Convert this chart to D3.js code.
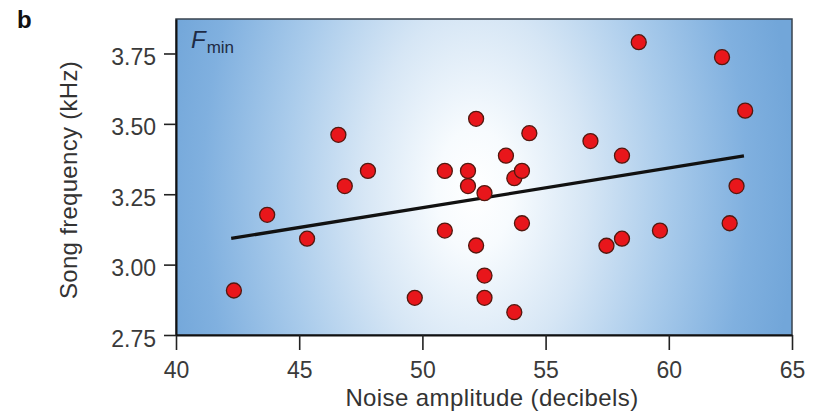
<!DOCTYPE html>
<html>
<head>
<meta charset="utf-8">
<script src="https://cdn.jsdelivr.net/npm/d3@7/dist/d3.min.js"></script>
<style>
  html, body { margin: 0; padding: 0; background: #ffffff; }
  svg { display: block; font-family: "Liberation Sans", Arial, sans-serif; }
</style>
</head>
<body>
<svg id="chart" width="825" height="414"></svg>
<script>
// ---- data ----
const noiseDb = [42.35, 43.7, 45.32, 46.59, 46.85, 47.79, 49.69, 50.91, 50.91, 51.85,
                 51.85, 52.18, 52.18, 52.52, 52.52, 52.52, 53.39, 53.73, 53.73, 54.04,
                 54.04, 54.34, 56.82, 57.47, 58.10, 58.10, 58.78, 59.64, 62.16, 62.47,
                 62.75, 63.10];
const songKHz = [2.908, 3.177, 3.092, 3.461, 3.279, 3.333, 2.882, 3.333, 3.121, 3.333,
                 3.279, 3.518, 3.068, 3.254, 2.961, 2.882, 3.387, 3.307, 2.831, 3.333,
                 3.147, 3.467, 3.439, 3.067, 3.387, 3.092, 3.790, 3.121, 3.737, 3.147,
                 3.279, 3.547];
const fitX = [42.24, 63.05];
const fitY = [3.093, 3.386];
const xTicks = [40, 45, 50, 55, 60, 65];
const yTicks = [2.75, 3.00, 3.25, 3.50, 3.75];
const xDomain = [40, 65];
const yDomain = [2.75, 3.8725];

// ---- layout ----
const L = 176, R = 792, T = 19, B = 335;
const svg = d3.select("#chart");
const x = d3.scaleLinear().domain(xDomain).range([L, R]);
const y = d3.scaleLinear().domain(yDomain).range([B, T]);

// background gradient
const defs = svg.append("defs");
const cx = 475, cy = 190;
const grad = defs.append("radialGradient")
  .attr("id", "bg")
  .attr("gradientUnits", "userSpaceOnUse")
  .attr("cx", cx).attr("cy", cy).attr("r", 320)
  .attr("gradientTransform", `translate(${cx},${cy}) scale(1,1.6) translate(${-cx},${-cy})`);
[[0, "#ffffff"], [0.12, "#f7fbfe"], [0.35, "#d6e6f5"], [0.6, "#a9cbeb"], [0.85, "#80b0df"], [1, "#72a6d9"]]
  .forEach(([o, c]) => grad.append("stop").attr("offset", o).attr("stop-color", c));

svg.append("rect")
  .attr("x", L).attr("y", T).attr("width", R - L).attr("height", B - T)
  .attr("fill", "url(#bg)")
  .attr("stroke", "#38434f").attr("stroke-width", 1.5);

// axes
const xAxis = svg.append("g").attr("transform", `translate(0,${B})`)
  .call(d3.axisBottom(x).tickValues(xTicks).tickSize(15).tickSizeOuter(0).tickFormat(d3.format("d")));
const yAxis = svg.append("g").attr("transform", `translate(${L},0)`)
  .call(d3.axisLeft(y).tickValues(yTicks).tickSize(12).tickSizeOuter(0).tickPadding(8).tickFormat(d3.format(".2f")));
[xAxis, yAxis].forEach(g => {
  g.select(".domain").attr("stroke", "#111").attr("stroke-width", 2);
  g.selectAll(".tick line").attr("stroke", "#222").attr("stroke-width", 1.6);
  g.selectAll(".tick text").attr("fill", "#3a3a3a").style("font-size", "23px");
});
xAxis.selectAll(".tick text").attr("dy", 0).attr("y", 43);
yAxis.selectAll(".tick text").attr("dy", "0.48em");

// regression line
svg.append("line")
  .attr("x1", x(fitX[0])).attr("y1", y(fitY[0]))
  .attr("x2", x(fitX[1])).attr("y2", y(fitY[1]))
  .attr("stroke", "#111").attr("stroke-width", 3.3);

// points
svg.append("g").selectAll("circle")
  .data(noiseDb.map((v, i) => [v, songKHz[i]]))
  .join("circle")
  .attr("cx", d => x(d[0])).attr("cy", d => y(d[1]))
  .attr("r", 7.5)
  .attr("fill", "#e8161b")
  .attr("stroke", "#52180f").attr("stroke-width", 1.3);

// axis titles
svg.append("text")
  .attr("x", 492).attr("y", 406)
  .attr("text-anchor", "middle").attr("fill", "#333")
  .style("font-size", "24px").style("letter-spacing", "0.4px")
  .text("Noise amplitude (decibels)");
svg.append("text")
  .attr("transform", `translate(77,180) rotate(-90)`)
  .attr("text-anchor", "middle").attr("fill", "#333")
  .style("font-size", "24px").style("letter-spacing", "0.3px")
  .text("Song frequency (kHz)");

// panel label
svg.append("text").attr("x", 17).attr("y", 28)
  .style("font-size", "24px").style("font-weight", "bold").attr("fill", "#111")
  .text("b");

// F_min label
const fl = svg.append("text").attr("x", 191).attr("y", 48).attr("fill", "#1e2b45");
fl.append("tspan").style("font-size", "24px").style("font-style", "italic").text("F");
fl.append("tspan").attr("dy", 5).attr("dx", 1).style("font-size", "17px").text("min");
</script>
</body>
</html>
